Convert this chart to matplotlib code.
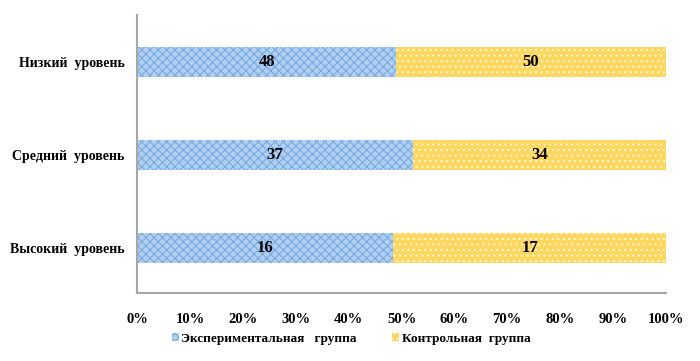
import matplotlib
matplotlib.use('Agg')
import matplotlib.pyplot as plt
import numpy as np

plt.rcParams['font.family'] = 'Liberation Serif'
plt.rcParams['font.weight'] = 'bold'
plt.rcParams['hatch.linewidth'] = 0.8

categories = ['Высокий  уровень', 'Средний  уровень', 'Низкий  уровень']
experimental = [16, 37, 48]
control = [17, 34, 50]
series_names = ['Экспериментальная   группа', 'Контрольная  группа']

exp = np.array(experimental, dtype=float)
ctl = np.array(control, dtype=float)
total = exp + ctl
exp_share = exp / total
ctl_share = ctl / total

fig = plt.figure(figsize=(7, 3.61), dpi=100)
ax = fig.add_axes([0.196, 0.188, 0.755, 0.770])

y = np.arange(len(categories))
h = 0.32
ax.barh(y, exp_share, height=h, color='#B3CFEF', edgecolor='#76AAE4',
        hatch='xxxx', linewidth=0, label=series_names[0])
ax.barh(y, ctl_share, height=h, left=exp_share, color='#FFD75E',
        edgecolor='#FFF8E0', hatch='...', linewidth=0, label=series_names[1])

for i in range(len(categories)):
    ax.text(exp_share[i] / 2, y[i], str(experimental[i]), ha='center', va='center',
            fontsize=12, fontweight='bold')
    ax.text(exp_share[i] + ctl_share[i] / 2, y[i], str(control[i]), ha='center',
            va='center', fontsize=12, fontweight='bold')

ax.set_xlim(0, 1)
ax.set_ylim(-0.484, 2.505)
ax.set_xticks(np.arange(0, 1.01, 0.1))
ax.set_xticklabels(['{}%'.format(int(round(v * 100))) for v in np.arange(0, 1.01, 0.1)],
                   fontsize=10.5)
ax.set_yticks(y)
ax.set_yticklabels(categories, fontsize=10)
ax.tick_params(axis='x', length=0, pad=14)
ax.tick_params(axis='y', length=0, pad=9)

for s in ['top', 'right']:
    ax.spines[s].set_visible(False)
for s in ['left', 'bottom']:
    ax.spines[s].set_color('#A6A6A6')
    ax.spines[s].set_linewidth(1.5)

ax.legend(loc='upper center', bbox_to_anchor=(0.405, -0.10), ncol=2, frameon=False,
          fontsize=9.5, handlelength=0.5, handleheight=0.5, handletextpad=0.2,
          columnspacing=2.7)

fig.savefig('out.png', dpi=100)
